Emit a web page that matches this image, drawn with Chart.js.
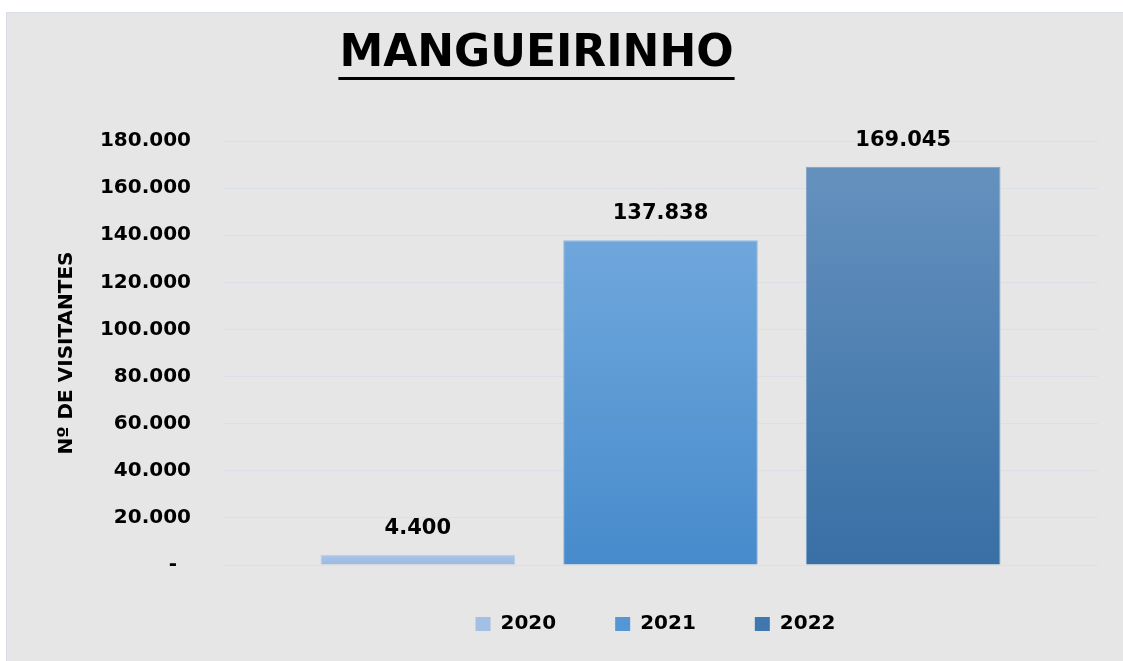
<!DOCTYPE html>
<html>
<head>
<meta charset="utf-8">
<script src="https://cdn.jsdelivr.net/npm/chart.js@4.4.1/dist/chart.umd.min.js"></script>
<style>
    html, body { margin: 0; padding: 0; background: #fff; }
    #box {
        position: absolute; left: 6px; top: 12px; width: 1117px; height: 649px;
        background: #e6e6e6; border-left: 1px solid #d8dde6; border-top: 1px solid #d8dde6;
        box-sizing: border-box;
    }
</style>
</head>
<body>
<div id="box"><canvas id="graficoMangueirinho"></canvas></div>
<script>
// dados
var categorias = ["Mangueirinho"];
var anos = ["2020", "2021", "2022"];
var visitantes2020 = [4400];
var visitantes2021 = [137838];
var visitantes2022 = [169045];
var ticksY = [0, 20000, 40000, 60000, 80000, 100000, 120000, 140000, 160000, 180000];

// cores (topo, base, borda, legenda)
var corTopo = ["#abc6ea", "#6fa7dc", "#6591be"];
var corBase = ["#9cb7dd", "#478bcc", "#386fa5"];
var corBorda = ["#b9cfec", "#93bce6", "#7b9fc6"];
var corLegenda = ["#a4bfe4", "#5597d6", "#3f77ae"];

var fonte = "'DejaVu Sans', sans-serif";

var formata = function (v) {
    return String(v).replace(/\B(?=(\d{3})+(?!\d))/g, '.');
};

var gradiente = function (i) {
    return function (c) {
        var chart = c.chart;
        if (!chart.chartArea || c.raw === undefined) return corLegenda[i];
        var y = chart.scales.y;
        var g = chart.ctx.createLinearGradient(0, y.getPixelForValue(c.raw), 0, y.getPixelForValue(0));
        g.addColorStop(0, corTopo[i]);
        g.addColorStop(1, corBase[i]);
        return g;
    };
};

var series = [visitantes2020, visitantes2021, visitantes2022];
var datasets = anos.map(function (ano, i) {
    return {
        label: ano,
        data: series[i],
        backgroundColor: gradiente(i),
        borderColor: corBorda[i],
        borderWidth: 1
    };
});

// titulo sublinhado
var titulo = {
    id: 'titulo',
    afterDraw: function (chart) {
        var ctx = chart.ctx;
        var txt = "MANGUEIRINHO";
        ctx.save();
        ctx.font = "bold 44px " + fonte;
        ctx.fillStyle = "#000";
        ctx.textAlign = "center";
        ctx.textBaseline = "alphabetic";
        var cx = 529.5;
        ctx.fillText(txt, cx, 53);
        var w = ctx.measureText(txt).width;
        ctx.fillRect(cx - w / 2 - 1, 64, w + 2, 3);
        ctx.restore();
    }
};

// valores acima das barras
var rotulos = {
    id: 'rotulos',
    afterDatasetsDraw: function (chart) {
        var ctx = chart.ctx;
        ctx.save();
        ctx.font = "bold 21px " + fonte;
        ctx.fillStyle = "#000";
        ctx.textAlign = "center";
        ctx.textBaseline = "alphabetic";
        chart.data.datasets.forEach(function (ds, i) {
            chart.getDatasetMeta(i).data.forEach(function (el, j) {
                ctx.fillText(formata(ds.data[j]), el.x, el.y - 21);
            });
        });
        ctx.restore();
    }
};

var ctx1 = document.getElementById("graficoMangueirinho").getContext("2d");
new Chart(ctx1, {
    type: 'bar',
    data: { labels: categorias, datasets: datasets },
    options: {
        responsive: true,
        maintainAspectRatio: false,
        animation: false,
        categoryPercentage: 0.832,
        barPercentage: 0.802,
        layout: { padding: { top: 128, right: 25, bottom: 17, left: 16 } },
        scales: {
            x: { display: false },
            y: {
                min: 0,
                max: 180000,
                afterFit: function (s) { s.width = 200; },
                afterBuildTicks: function (s) {
                    s.ticks = ticksY.map(function (v) { return { value: v }; });
                },
                border: { display: false },
                grid: { color: "#dadfe8", lineWidth: 1, drawTicks: false },
                ticks: {
                    padding: 32,
                    color: "#000",
                    font: { family: fonte, size: 20, weight: 'bold' },
                    callback: function (v) { return v === 0 ? "-  " : formata(v); }
                },
                title: {
                    display: true,
                    text: "Nº DE VISITANTES",
                    color: "#000",
                    font: { family: fonte, size: 20, weight: 'bold' },
                    padding: { top: 32, bottom: 0 }
                }
            }
        },
        plugins: {
            legend: {
                position: 'bottom',
                fullSize: false,
                labels: {
                    boxWidth: 15,
                    boxHeight: 14,
                    padding: 49,
                    color: "#000",
                    font: { family: fonte, size: 20, weight: 'bold' },
                    generateLabels: function (chart) {
                        var itens = Chart.defaults.plugins.legend.labels.generateLabels(chart);
                        itens.forEach(function (it, i) {
                            it.text = it.text + "\u2002";
                            it.fillStyle = corLegenda[i];
                            it.lineWidth = 0;
                        });
                        return itens;
                    }
                }
            },
            tooltip: { enabled: false }
        }
    },
    plugins: [titulo, rotulos]
});
</script>
</body>
</html>
